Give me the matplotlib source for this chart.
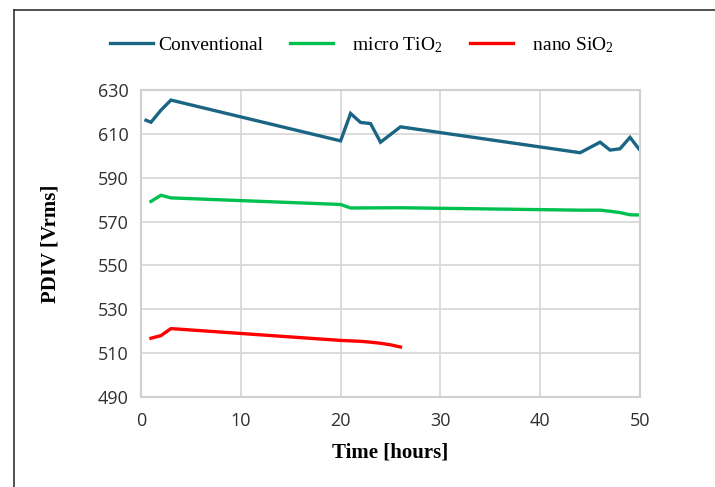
import matplotlib
matplotlib.use("Agg")
import matplotlib.pyplot as plt
from matplotlib.lines import Line2D

# data
conv_hours = [0.5, 1, 2, 3, 20, 21, 22, 23, 24, 26, 44, 46, 47, 48, 49, 50]
conv_pdiv = [616.2, 615.3, 620.8, 625.4, 606.8, 619.3, 615.2, 614.7, 606.2, 613.2,
             601.4, 606.2, 602.6, 603.2, 608.4, 602.5]

micro_hours = [1, 2, 3, 20, 21, 26, 44, 46, 47, 48, 49, 50]
micro_pdiv = [579.2, 582.0, 580.8, 577.8, 576.2, 576.3, 575.2, 575.2, 574.7, 574.1,
              573.1, 573.0]

nano_hours = [1, 2, 3, 20, 21, 22, 23, 24, 25, 26]
nano_pdiv = [516.8, 518.0, 521.2, 515.8, 515.6, 515.4, 515.0, 514.5, 513.8, 512.8]

x_ticks = [0, 10, 20, 30, 40, 50]
y_ticks = [490, 510, 530, 550, 570, 590, 610, 630]

COL_CONV = "#1b6584"
COL_MICRO = "#00c04f"
COL_NANO = "#ff0000"

plt.rcParams["mathtext.fontset"] = "custom"
plt.rcParams["mathtext.rm"] = "Liberation Serif"
plt.rcParams["mathtext.it"] = "Liberation Serif:italic"

fig = plt.figure(figsize=(7.15, 4.87), dpi=100)
ax = fig.add_axes([141 / 715, 1 - 397 / 487, 499 / 715, 307 / 487])

ax.plot(conv_hours, conv_pdiv, color=COL_CONV, lw=2.4, label="Conventional",
        solid_joinstyle="miter")
ax.plot(micro_hours, micro_pdiv, color=COL_MICRO, lw=2.4, label="   micro TiO$_2$")
ax.plot(nano_hours, nano_pdiv, color=COL_NANO, lw=2.4, label="   nano SiO$_2$")

ax.set_xlim(0, 50)
ax.set_ylim(490, 630)
ax.set_xticks(x_ticks)
ax.set_yticks(y_ticks)
ax.grid(True, color="#d9d9d9", lw=1.3)
ax.set_axisbelow(True)
for s in ax.spines.values():
    s.set_color("#d0d0d0")
    s.set_linewidth(1.5)
ax.tick_params(length=0, labelsize=13)
ax.tick_params(axis="x", pad=11)
ax.tick_params(axis="y", pad=9)
for lab in ax.get_xticklabels() + ax.get_yticklabels():
    lab.set_fontfamily("Open Sans")
    lab.set_color("#303030")

ax.set_xlabel("Time [hours]", fontfamily="Liberation Serif", fontweight="bold",
              fontsize=15, labelpad=9)
ax.set_ylabel("PDIV [Vrms]", fontfamily="Liberation Serif", fontweight="bold",
              fontsize=15, labelpad=27)

leg = fig.legend(loc="center", bbox_to_anchor=(362 / 715, 1 - 45 / 487), ncol=3,
                 frameon=False, prop={"family": "Liberation Serif", "size": 14},
                 handlelength=2.2, handletextpad=0.25, columnspacing=1.4)

# outer frame lines (left and top only, as in the reference)
fig.add_artist(Line2D([14 / 715, 14 / 715], [0, 1 - 10 / 487], transform=fig.transFigure,
                      color="#333333", lw=1.2))
fig.add_artist(Line2D([14 / 715, 1], [1 - 10 / 487, 1 - 10 / 487], transform=fig.transFigure,
                      color="#333333", lw=1.2))

fig.savefig("out.png", dpi=100)
